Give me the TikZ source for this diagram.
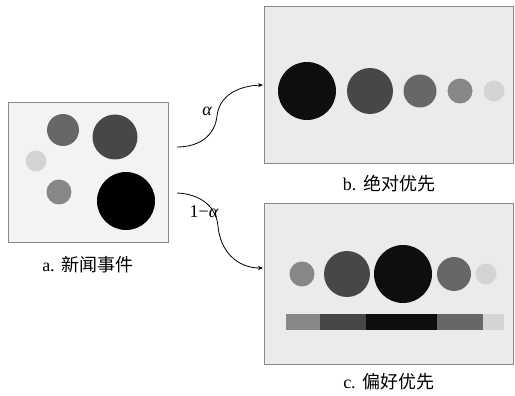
\documentclass[tikz,border=0pt]{standalone}
\usepackage{fontspec}
\setmainfont{Liberation Serif}
\newfontfamily\cjk{Noto Sans CJK SC}
\usetikzlibrary{arrows.meta}
\definecolor{cA}{HTML}{0E0E0E}
\definecolor{cB}{HTML}{474747}
\definecolor{cC}{HTML}{676767}
\definecolor{cD}{HTML}{878787}
\definecolor{cE}{HTML}{D4D4D4}
\definecolor{panelA}{HTML}{F3F3F3}
\definecolor{panelB}{HTML}{EBEBEB}
\definecolor{edge}{HTML}{8A8A8A}
\tikzset{
  panel/.style={draw=edge, line width=0.9pt},
  dot/.style={circle, inner sep=0pt, minimum size=#1},
  lab/.style={font=\fontsize{18}{18}\selectfont},
  link/.style={line width=0.8pt, -{Stealth[length=5pt,width=4pt]}},
  seg/.style={inner sep=0pt, minimum height=16pt}
}
\begin{document}
\begin{tikzpicture}[x=1pt,y=-1pt]
\useasboundingbox (0,0) rectangle (515,396);
% panels
\draw[panel, fill=panelA] (8,102) rectangle (168,242);
\draw[panel, fill=panelB] (264,6) rectangle (513,163);
\draw[panel, fill=panelB] (264,203) rectangle (513,364);
% panel a circles
\node[dot=32pt, fill=cC] (a1) at (63,130) {};
\node[dot=45pt, fill=cB] (a2) at (115,137) {};
\node[dot=21pt, fill=cE] (a3) at (36,161) {};
\node[dot=25pt, fill=cD] (a4) at (59,192) {};
\node[dot=58pt, fill=black] (a5) at (126,201) {};
% panel b circles
\node[dot=58pt, fill=cA] (b1) at (307,91) {};
\node[dot=46pt, fill=cB] (b2) at (370,91) {};
\node[dot=33pt, fill=cC] (b3) at (420,91) {};
\node[dot=25pt, fill=cD] (b4) at (460,91) {};
\node[dot=21pt, fill=cE] (b5) at (494,91) {};
% panel c circles
\node[dot=25pt, fill=cD] (c1) at (302,274) {};
\node[dot=46pt, fill=cB] (c2) at (347,274) {};
\node[dot=58pt, fill=cA] (c3) at (403,274) {};
\node[dot=34pt, fill=cC] (c4) at (454,274) {};
\node[dot=21pt, fill=cE] (c5) at (486,274) {};
% bar
\fill[cD] (286,314) rectangle (320,330);
\fill[cB] (320,314) rectangle (366,330);
\fill[cA] (366,314) rectangle (437,330);
\fill[cC] (437,314) rectangle (483,330);
\fill[cE] (483,314) rectangle (504,330);
% labels
\node[lab] (la) at (88,265) {a.\hspace{7pt}{\cjk 新闻事件}};
\node[lab] (lb) at (389,184) {b.\hspace{7pt}{\cjk 绝对优先}};
\node[lab] (lc) at (389,382) {c.\hspace{7pt}{\cjk 偏好优先}};
% connectors
\coordinate (s1) at (177,147);
\coordinate (m1) at (217,116);
\coordinate (e1) at (263,85);
\coordinate (s2) at (177,193);
\coordinate (m2) at (218,226);
\coordinate (e2) at (263,268);
\draw[link] (s1) .. controls (200,147) and (215,135) .. (m1) .. controls (219,97) and (236,86) .. (e1);
\draw[link] (s2) .. controls (200,194) and (216,206) .. (m2) .. controls (220,250) and (236,268) .. (e2);
\node[lab, inner sep=0pt] (al1) at (207,111) {\itshape α};
\node[lab, inner sep=0pt] (al2) at (204,212) {1−\itshape α};
\end{tikzpicture}
\end{document}
